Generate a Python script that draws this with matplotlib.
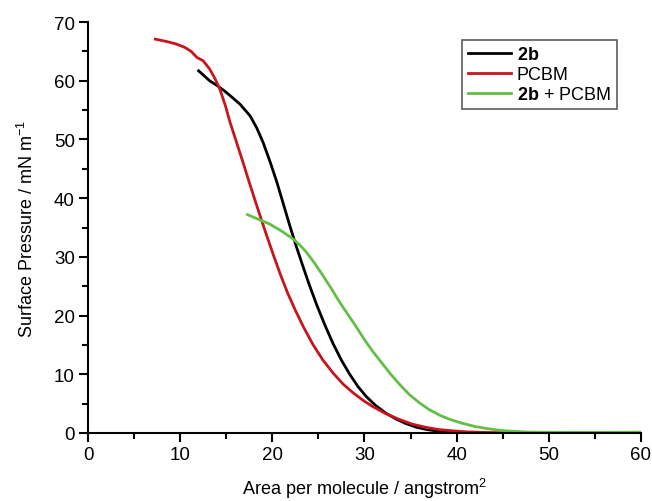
import matplotlib
matplotlib.use("Agg")
import matplotlib.pyplot as plt
from matplotlib.ticker import MultipleLocator

plt.rcParams['font.family'] = ['Liberation Sans', 'DejaVu Sans']
plt.rcParams['mathtext.fontset'] = 'custom'
plt.rcParams['mathtext.rm'] = 'Liberation Sans'
plt.rcParams['mathtext.bf'] = 'Liberation Sans:bold'

# Surface pressure isotherms (area per molecule in Å^2, pressure in mN/m)
area_2b = [12.0, 12.5, 13.2, 14.0, 14.7, 15.4, 16.5, 17.6, 18.3, 19.0, 19.8, 20.5,
           21.2, 21.9, 22.6, 23.3, 24.0, 24.8, 25.7, 26.6, 27.5, 28.4, 29.3,
           30.2, 31.2, 32.3, 33.4, 34.5, 35.6, 36.7, 38.0, 39.5, 41.0]
pi_2b = [61.7, 61.0, 60.0, 59.2, 58.4, 57.5, 56.0, 54.0, 52.0, 49.5, 46.0, 42.7,
         39.0, 35.3, 31.8, 28.5, 25.3, 21.9, 18.4, 15.2, 12.4, 10.0, 7.9,
         6.2, 4.7, 3.4, 2.4, 1.6, 1.0, 0.6, 0.3, 0.12, 0.05]

area_pcbm = [7.3, 8.5, 9.5, 10.5, 11.2, 11.8, 12.5, 13.2, 13.8, 14.3, 14.9, 15.4,
             16.1, 16.8, 17.6, 18.4, 19.2, 20.1, 20.9, 21.7, 22.5, 23.4,
             24.4, 25.5, 26.6, 27.7, 28.8, 29.9, 30.9, 32.3, 33.8, 35.2, 36.7, 38.0,
             39.3, 41.0, 43.0, 45.0]
pi_pcbm = [67.1, 66.7, 66.3, 65.7, 65.0, 64.0, 63.4, 62.0, 60.3, 58.6, 55.8, 53.0,
           49.6, 46.2, 42.2, 38.3, 34.5, 30.4, 26.9, 23.7, 20.9, 18.0,
           15.1, 12.4, 10.2, 8.3, 6.8, 5.5, 4.5, 3.3, 2.3, 1.5, 0.95, 0.6,
           0.4, 0.2, 0.1, 0.05]

area_mix = [17.3, 18.5, 19.7, 21.0, 22.3, 23.0, 23.7, 24.6, 25.5, 26.4, 27.3, 28.2,
            29.1, 30.0, 30.9, 31.9, 32.8, 33.8, 34.9, 36.0, 37.0, 38.2, 39.3, 40.5,
            42.0, 43.5, 45.0, 46.5, 48.0, 52.0, 56.0, 60.0]
pi_mix = [37.2, 36.4, 35.6, 34.4, 33.0, 32.0, 30.8, 28.9, 26.8, 24.6, 22.3, 20.2,
          18.1, 15.9, 13.9, 11.9, 10.1, 8.3, 6.5, 5.1, 4.0, 3.0, 2.3, 1.7,
          1.1, 0.7, 0.4, 0.25, 0.15, 0.1, 0.1, 0.15]

fig = plt.figure(figsize=(6.52, 5.02), dpi=100)
ax = fig.add_axes([0.135, 0.1355, 0.848, 0.8185])

lw = 2.0
ax.plot(area_2b, pi_2b, color='black', lw=lw, label=r'$\mathbf{2b}$')
ax.plot(area_pcbm, pi_pcbm, color='#c8151b', lw=lw, label='PCBM')
ax.plot(area_mix, pi_mix, color='#62bf45', lw=lw, label=r'$\mathbf{2b}$ + PCBM')

ax.set_xlim(0, 60)
ax.set_ylim(0, 70)
ax.xaxis.set_major_locator(MultipleLocator(10))
ax.xaxis.set_minor_locator(MultipleLocator(5))
ax.yaxis.set_major_locator(MultipleLocator(10))
ax.yaxis.set_minor_locator(MultipleLocator(5))

for s in ('top', 'right'):
    ax.spines[s].set_visible(False)
for s in ('left', 'bottom'):
    ax.spines[s].set_linewidth(1.5)

ax.tick_params(which='major', direction='out', length=6.5, width=1.5,
               labelsize=13.5, pad=3)
ax.tick_params(which='minor', direction='out', length=4, width=1.5)

ax.set_xlabel(r'Area per molecule / angstrom$^2$', fontsize=13, labelpad=9)
ax.set_ylabel(r'Surface Pressure / mN m$^{-1}$', fontsize=13, labelpad=12)

leg = ax.legend(loc='upper right', bbox_to_anchor=(0.957, 0.956), fontsize=13,
                frameon=True, fancybox=False, edgecolor='#333333',
                handlelength=2.4, handletextpad=0.3, borderpad=0.35,
                labelspacing=0.15, borderaxespad=0)
leg.get_frame().set_linewidth(1.2)

fig.savefig('out.png', dpi=100)
